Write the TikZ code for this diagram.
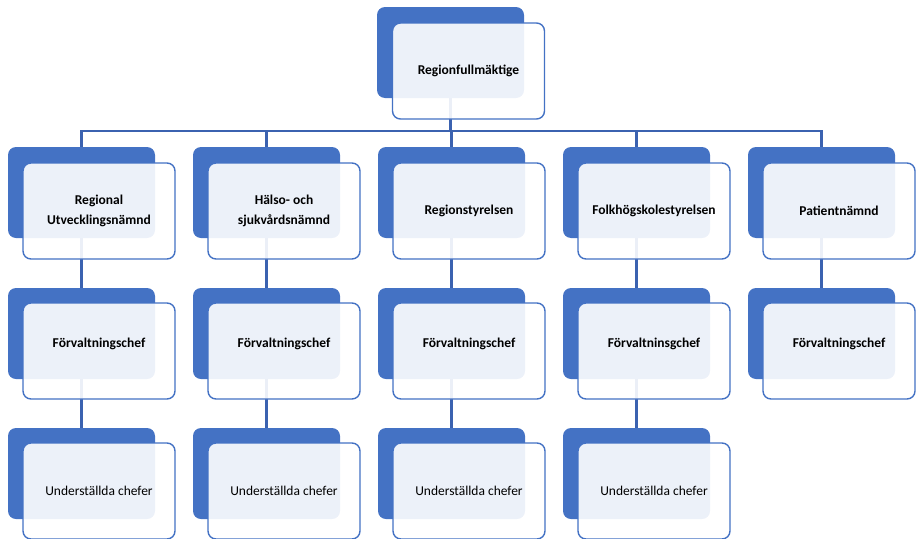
\documentclass[tikz,border=0pt]{standalone}
\usepackage{fontspec}
\setmainfont{Carlito}
\definecolor{bback}{HTML}{4472C4}
\definecolor{bline}{HTML}{3B62B0}
\tikzset{
  backbox/.style={draw=none, fill=bback, rounded corners=8pt, minimum width=147pt, minimum height=91pt, inner sep=0pt},
  frontbox/.style={draw=bback, line width=1.4pt, fill=white, fill opacity=0.9, text opacity=1, rounded corners=8pt, minimum width=152pt, minimum height=96pt, inner sep=0pt, align=center, font=\fontsize{13.5}{19.5}\selectfont\bfseries},
  txt/.style={inner sep=0pt, align=center, font=\fontsize{13.5}{19.5}\selectfont\bfseries},
  plain/.style={font=\fontsize{13.5}{19.5}\selectfont},
  conn/.style={draw=bline, line width=2.5pt}
}
\begin{document}
\begin{tikzpicture}[x=1pt,y=-1pt]
\useasboundingbox (0,0) rectangle (917,538);
% back boxes
\node[backbox] (tb) at (450.5,52.5) {};
\foreach \i/\x in {1/8,2/193,3/378,4/563,5/748}{
  \node[backbox] (a\i) at (\x+73.5,192.5) {};
  \node[backbox] (m\i) at (\x+73.5,333.5) {};
}
\foreach \i/\x in {1/8,2/193,3/378,4/563}{
  \node[backbox] (u\i) at (\x+73.5,473.5) {};
}
% connectors
\coordinate (busy) at (0,131);
\foreach \i in {1,...,5}{
  \draw[conn] (tb.south) -- (tb.south |- busy) -| (a\i.north);
  \draw[conn] (a\i.south) -- (m\i.north);
}
\foreach \i in {1,...,4}{
  \draw[conn] (m\i.south) -- (u\i.north);
}
% front boxes
\node[frontbox] (tf) at (468.5,71) {Regionfullmäktige};
\node[frontbox] (af1) at (8+91,211) {Regional\\Utvecklingsnämnd};
\node[frontbox] (af2) at (193+91,211) {Hälso- och\\sjukvårdsnämnd};
\node[frontbox] (af3) at (378+91,211) {Regionstyrelsen};
\node[frontbox] (af4) at (563+91,211) {Folkhögskolestyrelsen};
\node[frontbox] (af5) at (748+91,211) {Patientnämnd};
\foreach \i/\x in {1/8,2/193,3/378,4/563,5/748}{
  \node[frontbox] (mf\i) at (\x+91,351) {};
}
\node[txt] (mt1) at (8+91,344) {Förvaltningschef};
\node[txt] (mt2) at (193+91,344) {Förvaltningschef};
\node[txt] (mt3) at (378+91,344) {Förvaltningschef};
\node[txt] (mt4) at (563+91,344) {Förvaltninsgchef};
\node[txt] (mt5) at (748+91,344) {Förvaltningschef};
\node[frontbox, plain] (uf1) at (8+91,491) {Underställda chefer};
\node[frontbox, plain] (uf2) at (193+91,491) {Underställda chefer};
\node[frontbox, plain] (uf3) at (378+91,491) {Underställda chefer};
\node[frontbox, plain] (uf4) at (563+91,491) {Underställda chefer};
\end{tikzpicture}
\end{document}
